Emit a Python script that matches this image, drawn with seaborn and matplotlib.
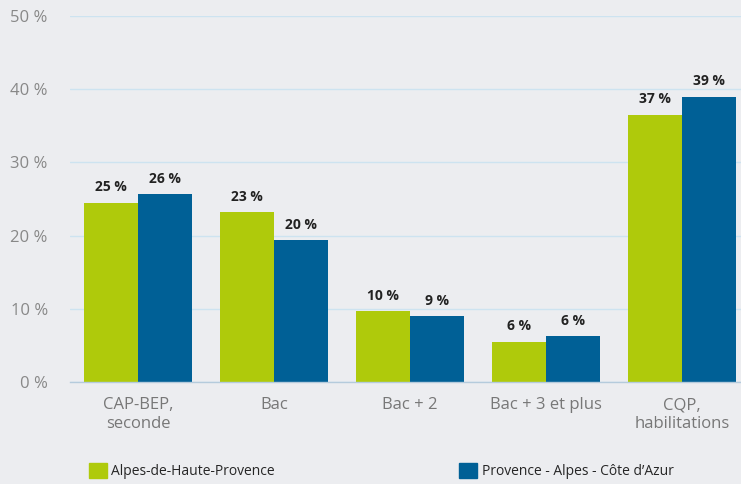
import pandas as pd
import matplotlib.pyplot as plt
import seaborn as sns

categories = ['CAP-BEP,\nseconde', 'Bac', 'Bac + 2', 'Bac + 3 et plus', 'CQP,\nhabilitations']
series = ['Alpes-de-Haute-Provence', 'Provence - Alpes - Côte d\u2019Azur']
values_alpes = [24.5, 23.2, 9.7, 5.5, 36.5]
values_paca = [25.7, 19.4, 9.0, 6.3, 39.0]
labels_alpes = ['25 %', '23 %', '10 %', '6 %', '37 %']
labels_paca = ['26 %', '20 %', '9 %', '6 %', '39 %']
yticks = [0, 10, 20, 30, 40, 50]

colors = {series[0]: '#AFCA0B', series[1]: '#006096'}
bg = '#ECEDF0'

sns.set_theme(style='white')
plt.rcParams['font.family'] = ['Open Sans', 'DejaVu Sans']

df = pd.DataFrame({
    'categorie': categories * 2,
    'serie': [series[0]] * 5 + [series[1]] * 5,
    'valeur': values_alpes + values_paca,
})

fig = plt.figure(figsize=(7.41, 4.84), dpi=100, facecolor=bg)
ax = fig.add_axes([70 / 741, 102 / 484, 680 / 741, 366 / 484])
ax.set_facecolor(bg)

sns.barplot(data=df, x='categorie', y='valeur', hue='serie', palette=colors,
            width=0.8, saturation=1, ax=ax, legend=False, linewidth=0,
            edgecolor='none')

# étiquettes arrondies au-dessus des barres
for container, labs in zip(ax.containers, [labels_alpes, labels_paca]):
    ax.bar_label(container, labels=labs, padding=6, fontsize=10,
                 fontweight='bold', color='#222222')

ax.set_ylim(0, 50)
ax.set_yticks(yticks)
ax.set_yticklabels([f'{t} %' for t in yticks])
ax.grid(axis='y', color='#cde3f0', linewidth=1)
ax.set_axisbelow(True)
for s in ['top', 'right', 'left']:
    ax.spines[s].set_visible(False)
ax.spines['bottom'].set_color('#b5cbdc')
ax.spines['bottom'].set_linewidth(1)
ax.tick_params(axis='y', length=0, pad=16, labelsize=12, labelcolor='#888888')
ax.tick_params(axis='x', length=0, pad=11, labelsize=12, labelcolor='#777777')
ax.set_xlabel('')
ax.set_ylabel('')

handles = [plt.Rectangle((0, 0), 1, 1, color=colors[s]) for s in series]
fig.legend(handles, series, ncol=2, loc='lower left',
           bbox_to_anchor=(79 / 741, -5 / 484), frameon=False, fontsize=10,
           handlelength=1.3, handleheight=1.3, handletextpad=0.3,
           columnspacing=13.3, borderpad=0.2)

fig.savefig('out.png', dpi=100, facecolor=bg)
